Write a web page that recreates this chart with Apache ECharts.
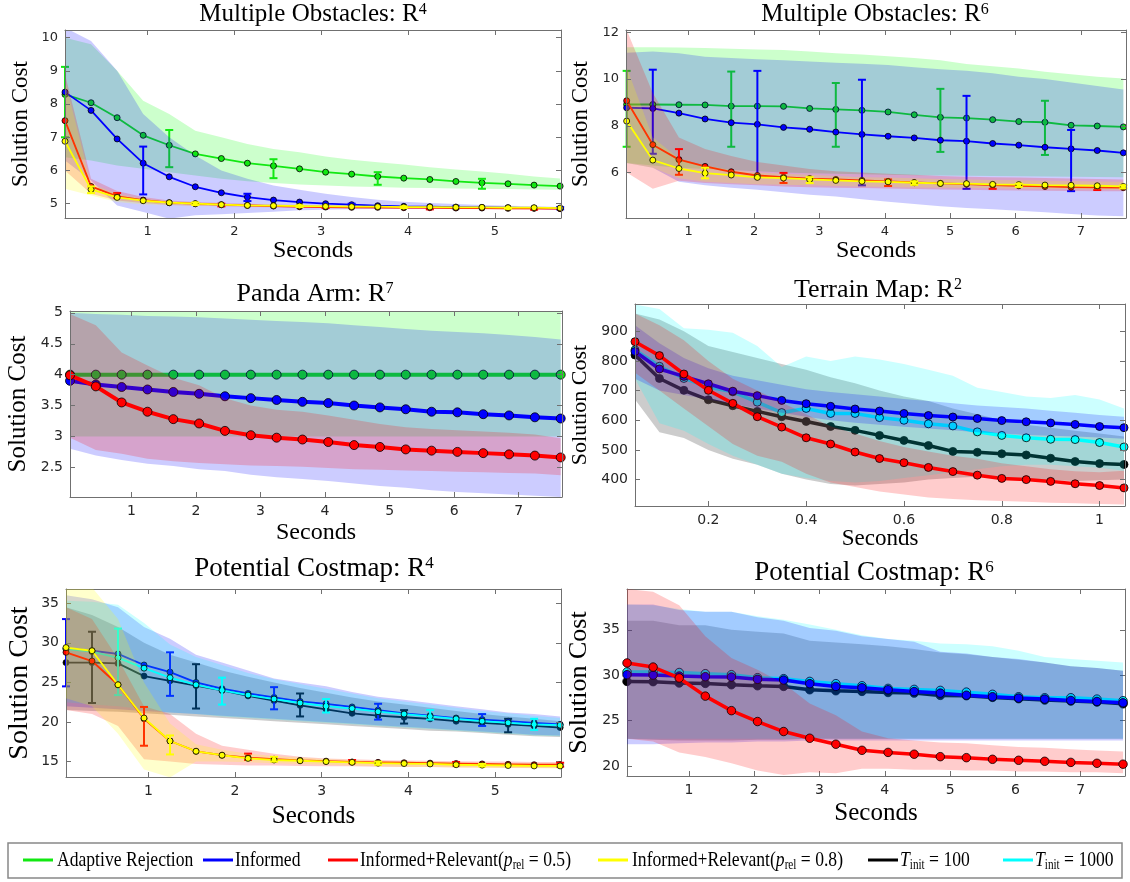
<!DOCTYPE html>
<html><head><meta charset="utf-8">
<script src="https://cdn.jsdelivr.net/npm/echarts@6/dist/echarts.min.js"></script>
<style>html,body{margin:0;padding:0;background:#fff}#c{width:1130px;height:882px}</style>
</head><body><div id="c"></div><script>
// ---------- Panel 1: Multiple Obstacles R^4 ----------
const mo4X = [0.05,0.35,0.65,0.95,1.25,1.55,1.85,2.15,2.45,2.75,3.05,3.35,3.65,3.95,4.25,4.55,4.85,5.15,5.45,5.75];
const mo4XTicks = [1,2,3,4,5];
const mo4YTicks = [5,6,7,8,9,10];
const mo4Adaptive = [8.29,8.04,7.59,7.06,6.76,6.50,6.36,6.22,6.14,6.05,5.95,5.89,5.82,5.77,5.73,5.67,5.63,5.60,5.56,5.53];
const mo4Informed = [8.36,7.81,6.95,6.22,5.81,5.51,5.33,5.20,5.11,5.05,5.00,4.97,4.94,4.92,4.91,4.90,4.89,4.88,4.87,4.86];
const mo4Rel05 = [7.50,5.52,5.22,5.11,5.03,5.00,4.97,4.95,4.93,4.91,4.90,4.89,4.89,4.88,4.88,4.87,4.87,4.86,4.86,4.85];
const mo4Rel08 = [6.88,5.43,5.19,5.09,5.03,5.00,4.97,4.95,4.94,4.93,4.92,4.91,4.91,4.90,4.90,4.89,4.89,4.88,4.88,4.87];
const mo4AdaptiveHi = [10.0,9.8,9.0,8.1,7.7,7.2,7.0,6.8,6.65,6.55,6.42,6.32,6.25,6.18,6.1,6.03,5.97,5.9,5.82,5.76];
const mo4AdaptiveLo = [6.4,6.3,6.15,6.05,5.95,5.85,5.75,5.68,5.62,5.58,5.55,5.52,5.5,5.48,5.47,5.46,5.45,5.44,5.43,5.42];
const mo4InformedHi = [10.3,9.9,9.0,7.7,7.0,6.45,6.0,5.75,5.55,5.42,5.3,5.2,5.12,5.06,5.02,4.99,4.96,4.94,4.92,4.9];
const mo4InformedLo = [6.3,5.7,4.95,4.75,4.55,4.65,4.68,4.72,4.76,4.8,4.82,4.83,4.84,4.85,4.85,4.85,4.85,4.85,4.84,4.84];
const mo4Rel05Hi = [8.9,5.75,5.38,5.2,5.1,5.05,5.02,5.0,4.98,4.96,4.95,4.94,4.93,4.92,4.92,4.91,4.91,4.9,4.9,4.9];
const mo4Rel05Lo = [6.0,5.3,5.1,5.02,4.96,4.94,4.92,4.9,4.89,4.88,4.87,4.86,4.85,4.85,4.84,4.84,4.83,4.83,4.82,4.82];
const mo4Rel08Hi = [8.7,5.6,5.3,5.15,5.07,5.04,5.0,4.98,4.97,4.96,4.95,4.94,4.93,4.93,4.92,4.92,4.91,4.91,4.9,4.9];
const mo4Rel08Lo = [5.45,5.25,5.05,4.98,4.96,4.94,4.93,4.92,4.91,4.9,4.89,4.88,4.88,4.87,4.87,4.86,4.86,4.85,4.85,4.84];
const mo4AdaptiveErr = [[0.05,7.0,9.12],[1.25,6.1,7.22],[2.45,5.77,6.34],[3.65,5.57,5.95],[4.85,5.45,5.75]];
const mo4InformedErr = [[0.95,5.28,6.72],[2.15,5.08,5.3],[3.35,4.94,5.0],[4.55,4.86,4.92],[5.75,4.83,4.9]];
const mo4Rel05Err = [[0.65,5.18,5.32],[1.85,4.92,5.0],[3.05,4.87,4.92],[4.25,4.83,4.88],[5.45,4.82,4.86]];
const mo4Rel08Err = [[0.35,5.32,5.52],[1.55,4.96,5.04],[2.75,4.9,4.95],[3.95,4.87,4.92],[5.15,4.85,4.88]];

// ---------- Panel 2: Multiple Obstacles R^6 ----------
const mo6X = [0.05,0.45,0.85,1.25,1.65,2.05,2.45,2.85,3.25,3.65,4.05,4.45,4.85,5.25,5.65,6.05,6.45,6.85,7.25,7.65];
const mo6XTicks = [1,2,3,4,5,6,7];
const mo6YTicks = [6,8,10,12];
const mo6Adaptive = [8.91,8.91,8.90,8.89,8.84,8.84,8.83,8.74,8.70,8.66,8.59,8.47,8.36,8.33,8.26,8.18,8.15,8.02,7.99,7.95];
const mo6Informed = [8.77,8.74,8.54,8.29,8.13,8.06,7.93,7.85,7.73,7.63,7.55,7.48,7.38,7.34,7.24,7.17,7.08,7.01,6.94,6.84];
const mo6Rel05 = [9.07,7.19,6.55,6.26,6.03,5.87,5.80,5.74,5.70,5.66,5.62,5.57,5.53,5.50,5.46,5.43,5.40,5.37,5.36,5.35];
const mo6Rel08 = [8.20,6.53,6.17,5.97,5.89,5.79,5.76,5.70,5.66,5.62,5.60,5.56,5.53,5.52,5.49,5.48,5.46,5.45,5.43,5.40];
const mo6AdaptiveHi = [11.36,11.36,11.35,11.33,11.3,11.27,11.24,11.18,11.1,11.05,10.98,10.9,10.8,10.64,10.55,10.45,10.31,10.2,10.1,10.02];
const mo6AdaptiveLo = [6.4,6.3,6.2,6.15,6.1,6.05,6.0,5.97,5.94,5.92,5.9,5.88,5.87,5.86,5.85,5.84,5.83,5.82,5.81,5.8];
const mo6InformedHi = [11.13,11.18,11.1,10.95,10.9,10.85,10.8,10.75,10.7,10.65,10.6,10.5,10.42,10.35,10.25,10.1,10.0,9.85,9.7,9.55];
const mo6InformedLo = [6.4,6.2,5.6,5.45,5.35,5.26,5.15,5.05,4.97,4.85,4.75,4.65,4.55,4.48,4.42,4.36,4.3,4.22,4.16,4.12];
const mo6Rel05Hi = [12.1,9.4,7.5,7.0,6.7,6.45,6.3,6.15,6.05,6.0,5.95,5.9,5.85,5.82,5.8,5.78,5.76,5.74,5.72,5.7];
const mo6Rel05Lo = [6.0,5.3,5.65,5.55,5.5,5.45,5.4,5.37,5.35,5.33,5.31,5.29,5.27,5.26,5.24,5.23,5.22,5.21,5.2,5.2];
const mo6Rel08Hi = [10.5,7.5,6.6,6.3,6.1,6.0,5.95,5.9,5.85,5.8,5.78,5.75,5.72,5.7,5.68,5.67,5.65,5.63,5.61,5.6];
const mo6Rel08Lo = [6.4,6.2,5.75,5.6,5.55,5.5,5.47,5.45,5.42,5.4,5.38,5.36,5.35,5.34,5.32,5.3,5.29,5.28,5.27,5.25];
const mo6AdaptiveErr = [[0.05,7.1,10.35],[1.65,7.1,10.32],[3.25,7.1,9.83],[4.85,6.88,9.58],[6.45,6.75,9.07]];
const mo6InformedErr = [[0.45,6.8,10.4],[2.05,5.8,10.35],[3.65,5.45,9.97],[5.25,5.3,9.28],[6.85,5.2,7.82]];
const mo6Rel05Err = [[0.85,5.9,7.0],[2.45,5.55,5.98],[4.05,5.42,5.7],[5.65,5.3,5.5],[7.25,5.25,5.42]];
const mo6Rel08Err = [[1.25,5.75,6.2],[2.85,5.55,5.8],[4.45,5.47,5.62],[6.05,5.38,5.52],[7.65,5.32,5.45]];

// ---------- Panel 3: Panda Arm R^7 ----------
const pandaX = [0.05,0.45,0.85,1.25,1.65,2.05,2.45,2.85,3.25,3.65,4.05,4.45,4.85,5.25,5.65,6.05,6.45,6.85,7.25,7.65];
const pandaXTicks = [1,2,3,4,5,6,7];
const pandaYTicks = [2.5,3,3.5,4,4.5,5];
const pandaAdaptive = [4,4,4,4,4,4,4,4,4,4,4,4,4,4,4,4,4,4,4,4];
const pandaInformed = [3.90,3.84,3.80,3.76,3.72,3.69,3.65,3.62,3.59,3.56,3.54,3.50,3.47,3.44,3.40,3.39,3.36,3.34,3.31,3.29];
const pandaRel05 = [3.99,3.81,3.55,3.40,3.28,3.21,3.09,3.02,2.98,2.95,2.91,2.86,2.83,2.79,2.77,2.75,2.73,2.71,2.69,2.66];
const pandaAdaptiveHi = [5.05,5.05,5.05,5.05,5.05,5.05,5.05,5.05,5.05,5.05,5.05,5.05,5.05,5.05,5.05,5.05,5.05,5.05,5.05,5.05];
const pandaAdaptiveLo = [3,3,3,3,3,3,3,3,3,3,3,3,3,3,3,3,3,3,3,3];
const pandaInformedHi = [5.0,4.98,4.97,4.95,4.94,4.93,4.91,4.89,4.87,4.85,4.83,4.8,4.77,4.74,4.71,4.69,4.67,4.64,4.61,4.57];
const pandaInformedLo = [2.8,2.69,2.62,2.56,2.52,2.47,2.44,2.38,2.34,2.31,2.28,2.24,2.2,2.17,2.13,2.1,2.08,2.06,2.04,2.02];
const pandaRel05Hi = [4.98,4.8,4.36,4.15,3.95,3.83,3.62,3.5,3.43,3.4,3.34,3.27,3.2,3.15,3.12,3.1,3.08,3.06,3.03,2.97];
const pandaRel05Lo = [2.98,2.78,2.72,2.64,2.6,2.57,2.55,2.53,2.52,2.51,2.49,2.47,2.46,2.45,2.44,2.43,2.42,2.41,2.4,2.37];

// ---------- Panel 4: Terrain Map R^2 ----------
const terrX = [0.05,0.10,0.15,0.20,0.25,0.30,0.35,0.40,0.45,0.50,0.55,0.60,0.65,0.70,0.75,0.80,0.85,0.90,0.95,1.00,1.05];
const terrXTicks = [0.2,0.4,0.6,0.8,1];
const terrYTicks = [400,500,600,700,800,900];
const terrInformed = [832,773,748,723,698,683,667,656,647,638,631,623,616,611,606,599,595,591,586,579,575];
const terrRel05 = [865,818,756,701,657,612,577,541,520,493,471,457,441,427,415,404,400,394,386,380,372];
const terrT100 = [820,741,701,669,649,630,612,596,579,566,549,532,515,495,492,487,483,472,461,454,451];
const terrT1000 = [837,782,741,712,696,661,626,640,623,623,609,600,588,581,561,549,541,536,535,525,510];
const terrInformedHi = [920,860,810,775,750,735,720,705,695,688,680,672,665,657,650,645,640,632,625,618,612];
const terrInformedLo = [740,700,685,670,655,640,625,612,600,592,585,578,572,566,560,555,550,548,545,542,538];
const terrT1000Hi = [990,975,910,905,895,850,780,815,800,815,805,790,770,750,710,695,680,675,685,670,640];
const terrT1000Lo = [740,590,565,520,480,450,420,405,395,390,395,405,415,425,435,445,450,450,445,440,430];
const terrT100Hi = [960,940,900,850,830,810,790,770,745,725,700,680,665,640,620,600,585,575,565,555,545];
const terrT100Lo = [670,560,540,500,470,450,420,400,385,380,385,390,400,405,410,405,400,398,395,398,400];
const terrRel05Hi = [960,920,870,800,740,700,660,620,580,555,530,510,495,480,470,455,445,435,428,425,430];
const terrRel05Lo = [760,700,640,580,520,480,460,420,390,375,360,350,340,335,330,328,325,322,320,318,316];

// ---------- Panel 5: Potential Costmap R^4 ----------
const pc4X = [0.05,0.35,0.65,0.95,1.25,1.55,1.85,2.15,2.45,2.75,3.05,3.35,3.65,3.95,4.25,4.55,4.85,5.15,5.45,5.75];
const pc4XTicks = [1,2,3,4,5];
const pc4YTicks = [15,20,25,30,35];
const pc4Informed = [29.3,29.0,28.6,27.2,26.3,25.0,24.2,23.6,23.1,22.6,22.3,21.9,21.5,21.1,20.8,20.5,20.3,20.1,19.9,19.7];
const pc4T1000 = [29.2,28.9,28.1,26.8,25.6,24.7,24.0,23.4,22.9,22.4,22.0,21.7,21.3,21.0,20.7,20.4,20.1,19.9,19.7,19.6];
const pc4T100 = [27.5,27.5,27.4,25.8,25.2,24.6,24.0,23.3,22.7,22.1,21.6,21.1,20.8,20.6,20.4,20.1,19.9,19.7,19.5,19.3];
const pc4Rel05 = [28.8,27.7,24.7,20.4,17.6,16.3,15.8,15.5,15.3,15.15,15.05,14.95,14.9,14.85,14.8,14.75,14.7,14.65,14.6,14.6];
const pc4Rel08 = [29.4,29.0,24.7,20.5,17.6,16.3,15.8,15.4,15.2,15.1,15.0,14.9,14.8,14.75,14.7,14.6,14.55,14.5,14.45,14.45];
const pc4InformedHi = [36.0,35.5,34.5,32.0,30.5,28.5,27.5,26.5,25.5,25.0,24.5,23.8,23.2,22.8,22.4,22.0,21.6,21.2,21.0,20.7];
const pc4InformedLo = [22.0,21.8,21.6,21.4,21.2,21.0,20.8,20.6,20.4,20.2,20.0,19.8,19.6,19.4,19.2,19.0,18.8,18.6,18.4,18.3];
const pc4T1000Hi = [35.3,35.2,34.8,32.5,29.8,28.2,27.2,26.2,25.4,24.8,24.2,23.6,23.0,22.6,22.2,21.8,21.4,21.1,20.8,20.5];
const pc4T1000Lo = [22.5,22.2,22.0,21.6,21.2,21.0,20.7,20.5,20.3,20.1,19.9,19.7,19.5,19.3,19.1,18.9,18.7,18.5,18.3,18.2];
const pc4T100Hi = [34.5,33.5,32.0,30.0,28.5,27.5,26.5,25.7,25.0,24.3,23.7,23.1,22.6,22.2,21.8,21.4,21.0,20.7,20.4,20.1];
const pc4T100Lo = [21.5,21.4,21.3,21.1,20.9,20.7,20.5,20.3,20.1,19.9,19.7,19.5,19.3,19.1,18.9,18.8,18.6,18.4,18.2,18.1];
const pc4Rel05Hi = [34.5,33.0,28.0,22.0,21.0,18.5,17.0,16.5,16.0,15.6,15.4,15.3,15.2,15.15,15.1,15.05,15.0,15.0,14.95,14.95];
const pc4Rel05Lo = [21.5,21.0,19.5,15.3,15.0,14.7,14.6,14.5,14.5,14.45,14.4,14.4,14.35,14.3,14.3,14.25,14.25,14.2,14.2,14.2];
const pc4Rel08Hi = [38.0,37.0,33.0,25.0,19.8,17.2,16.5,16.0,15.7,15.5,15.3,15.2,15.1,15.0,15.0,14.9,14.85,14.8,14.8,14.75];
const pc4Rel08Lo = [23.0,22.0,18.5,14.0,13.0,15.0,15.0,14.9,14.8,14.7,14.6,14.5,14.4,14.35,14.3,14.25,14.2,14.2,14.15,14.1];
const pc4InformedErr = [[0.05,24.5,33.0],[1.25,23.3,28.8],[2.45,21.6,24.4],[3.65,20.3,22.3],[4.85,19.5,21.0]];
const pc4T100Err = [[0.35,22.4,31.4],[1.55,21.7,27.3],[2.75,20.7,23.6],[3.95,19.8,21.5],[5.15,18.7,20.4]];
const pc4T1000Err = [[0.65,23.4,31.8],[1.85,22.2,25.6],[3.05,21.2,22.9],[4.25,20.3,21.5],[5.45,19.0,20.4]];
const pc4Rel05Err = [[0.95,17.0,21.9],[2.15,15.2,16.0],[3.35,14.8,15.2],[4.55,14.5,14.95],[5.75,14.35,14.85]];
const pc4Rel08Err = [[1.25,15.9,18.3],[2.45,15.0,15.6],[3.65,14.6,15.0],[4.85,14.4,14.7]];

// ---------- Panel 6: Potential Costmap R^6 ----------
const pc6X = [0.05,0.45,0.85,1.25,1.65,2.05,2.45,2.85,3.25,3.65,4.05,4.45,4.85,5.25,5.65,6.05,6.45,6.85,7.25,7.65];
const pc6XTicks = [1,2,3,4,5,6,7];
const pc6YTicks = [20,25,30,35];
const pc6Rel05 = [31.35,30.9,29.7,27.7,26.1,24.9,23.8,23.06,22.4,21.73,21.5,21.3,21.03,20.92,20.74,20.63,20.52,20.4,20.3,20.2];
const pc6T1000 = [30.36,30.36,30.3,30.17,30.06,29.73,29.62,29.32,29.07,28.84,28.55,28.44,28.33,28.14,27.9,27.63,27.52,27.52,27.37,27.19];
const pc6Informed = [30.06,30.02,29.91,29.84,29.8,29.55,29.47,29.07,28.77,28.62,28.4,28.2,28.03,27.8,27.63,27.48,27.37,27.22,27.11,26.96];
const pc6T100 = [29.32,29.29,29.14,29.1,28.95,28.84,28.77,28.4,28.29,28.22,28.1,28.03,27.78,27.74,27.56,27.41,27.26,27.15,27.04,26.85];
const pc6InformedHi = [37.8,37.8,37.2,37.0,37.0,36.4,36.0,35.2,34.9,34.3,34.0,33.7,32.6,32.4,32.0,31.8,31.4,31.0,30.8,30.5];
const pc6InformedLo = [22.4,22.4,22.5,22.6,22.6,22.7,22.7,22.8,22.8,22.8,22.8,22.8,22.8,22.8,22.8,22.8,22.8,22.8,22.8,22.8];
const pc6T1000Hi = [37.8,37.7,37.3,37.0,37.0,36.5,36.1,35.6,35.0,34.4,34.0,33.8,33.5,33.4,33.2,32.7,32.0,31.8,31.6,31.4];
const pc6T1000Lo = [23.0,23.0,23.0,23.0,23.0,23.0,23.0,23.0,23.0,23.0,23.0,23.0,23.0,23.0,23.0,23.0,23.0,23.0,23.0,23.0];
const pc6T100Hi = [36.0,36.0,35.5,35.5,35.0,34.8,34.6,33.8,33.6,33.4,33.2,32.9,32.5,32.3,32.0,31.7,31.4,31.0,30.8,30.5];
const pc6T100Lo = [23.0,22.9,22.8,22.8,22.8,22.9,22.9,23.0,23.0,23.0,23.0,23.0,23.0,23.0,23.0,23.0,23.0,23.0,23.0,23.0];
const pc6Rel05Hi = [39.5,39.2,37.7,34.3,31.9,30.6,29.1,26.9,25.6,23.8,23.06,22.8,22.6,22.5,22.3,22.1,22.0,21.85,21.7,21.6];
const pc6Rel05Lo = [23.0,22.7,21.5,21.0,20.3,19.5,19.0,19.3,19.2,19.7,19.7,19.6,19.6,19.5,19.5,19.4,19.4,19.3,19.3,19.2];

// ---------- Names / colours ----------
const NAMES = {
  adaptive: 'Adaptive Rejection',
  informed: 'Informed',
  rel05: 'Informed+Relevant(p_rel = 0.5)',
  rel08: 'Informed+Relevant(p_rel = 0.8)',
  t100: 'T_init = 100',
  t1000: 'T_init = 1000'
};
const LEGEND_ORDER = ['adaptive','informed','rel05','rel08','t100','t1000'];
const LINE_COLORS = {adaptive:'#12e812', informed:'#0000ff', rel05:'#ff0000', rel08:'#ffff00', t100:'#000000', t1000:'#00ffff'};
const BAND_COLORS = {adaptive:'rgba(0,255,0,0.2)', informed:'rgba(0,0,255,0.2)', rel05:'rgba(255,0,0,0.2)', rel08:'rgba(255,255,0,0.2)', t100:'rgba(0,0,0,0.2)', t1000:'rgba(0,255,255,0.2)'};

const SERIF = 'Liberation Serif';
const SANS = 'DejaVu Sans';
const AXC = '#707070';

const PANELS = [
  {title:['Multiple Obstacles: R','4'], tx:313, ty:14, tfs:25,
   grid:{left:65, top:30, width:496, height:188}, xr:[0.05,5.76], yr:[4.57,10.23], xt:mo4XTicks, yt:mo4YTicks,
   tf:13, ynf:23, yng:33, xnf:24, xng:21, lw:1.8, sym:6, cap:4, ew:2,
   algs:[
    {key:'adaptive', x:mo4X, y:mo4Adaptive, lo:mo4AdaptiveLo, hi:mo4AdaptiveHi, err:mo4AdaptiveErr},
    {key:'informed', x:mo4X, y:mo4Informed, lo:mo4InformedLo, hi:mo4InformedHi, err:mo4InformedErr},
    {key:'rel05', x:mo4X, y:mo4Rel05, lo:mo4Rel05Lo, hi:mo4Rel05Hi, err:mo4Rel05Err},
    {key:'rel08', x:mo4X, y:mo4Rel08, lo:mo4Rel08Lo, hi:mo4Rel08Hi, err:mo4Rel08Err}]},
  {title:['Multiple Obstacles: R','6'], tx:875, ty:14, tfs:25,
   grid:{left:626, top:30, width:500, height:188}, xr:[0.04,7.69], yr:[4.05,12.1], xt:mo6XTicks, yt:mo6YTicks,
   tf:13, ynf:23, yng:34, xnf:24, xng:21, lw:1.8, sym:6, cap:4, ew:2,
   algs:[
    {key:'adaptive', x:mo6X, y:mo6Adaptive, lo:mo6AdaptiveLo, hi:mo6AdaptiveHi, err:mo6AdaptiveErr},
    {key:'informed', x:mo6X, y:mo6Informed, lo:mo6InformedLo, hi:mo6InformedHi, err:mo6InformedErr},
    {key:'rel05', x:mo6X, y:mo6Rel05, lo:mo6Rel05Lo, hi:mo6Rel05Hi, err:mo6Rel05Err},
    {key:'rel08', x:mo6X, y:mo6Rel08, lo:mo6Rel08Lo, hi:mo6Rel08Hi, err:mo6Rel08Err}]},
  {title:['Panda Arm: R','7'], tx:315, ty:294, tfs:26,
   grid:{left:70, top:311, width:492, height:186}, xr:[0.05,7.67], yr:[2.02,5.03], xt:pandaXTicks, yt:pandaYTicks,
   tf:14, ynf:25, yng:39, xnf:24, xng:24, lw:4, sym:9, cap:4, ew:2,
   algs:[
    {key:'adaptive', x:pandaX, y:pandaAdaptive, lo:pandaAdaptiveLo, hi:pandaAdaptiveHi},
    {key:'informed', x:pandaX, y:pandaInformed, lo:pandaInformedLo, hi:pandaInformedHi},
    {key:'rel05', x:pandaX, y:pandaRel05, lo:pandaRel05Lo, hi:pandaRel05Hi}]},
  {title:['Terrain Map: R','2'], tx:878, ty:290, tfs:26,
   grid:{left:635, top:304, width:490, height:202}, xr:[0.05,1.052], yr:[311,992], xt:terrXTicks, yt:terrYTicks,
   tf:14, ynf:22, yng:44, xnf:23, xng:20, lw:3.5, sym:8, cap:4, ew:2,
   algs:[
    {key:'t100', x:terrX, y:terrT100, lo:terrT100Lo, hi:terrT100Hi},
    {key:'t1000', x:terrX, y:terrT1000, lo:terrT1000Lo, hi:terrT1000Hi},
    {key:'informed', x:terrX, y:terrInformed, lo:terrInformedLo, hi:terrInformedHi},
    {key:'rel05', x:terrX, y:terrRel05, lo:terrRel05Lo, hi:terrRel05Hi}]},
  {title:['Potential Costmap: R','4'], tx:314, ty:569, tfs:27,
   grid:{left:66, top:589, width:495, height:188}, xr:[0.05,5.76], yr:[13.05,36.8], xt:pc4XTicks, yt:pc4YTicks,
   tf:14, ynf:28, yng:32, xnf:25, xng:27, lw:1.8, sym:6, cap:4, ew:2,
   algs:[
    {key:'t100', x:pc4X, y:pc4T100, lo:pc4T100Lo, hi:pc4T100Hi, err:pc4T100Err},
    {key:'informed', x:pc4X, y:pc4Informed, lo:pc4InformedLo, hi:pc4InformedHi, err:pc4InformedErr},
    {key:'t1000', x:pc4X, y:pc4T1000, lo:pc4T1000Lo, hi:pc4T1000Hi, err:pc4T1000Err},
    {key:'rel05', x:pc4X, y:pc4Rel05, lo:pc4Rel05Lo, hi:pc4Rel05Hi, err:pc4Rel05Err},
    {key:'rel08', x:pc4X, y:pc4Rel08, lo:pc4Rel08Lo, hi:pc4Rel08Hi, err:pc4Rel08Err}]},
  {title:['Potential Costmap: R','6'], tx:874, ty:573, tfs:27,
   grid:{left:627, top:589, width:498, height:187}, xr:[0.05,7.68], yr:[18.9,39.5], xt:pc6XTicks, yt:pc6YTicks,
   tf:14, ynf:26, yng:35, xnf:25, xng:25, lw:3.5, sym:8.5, cap:4, ew:2,
   algs:[
    {key:'t100', x:pc6X, y:pc6T100, lo:pc6T100Lo, hi:pc6T100Hi},
    {key:'t1000', x:pc6X, y:pc6T1000, lo:pc6T1000Lo, hi:pc6T1000Hi},
    {key:'informed', x:pc6X, y:pc6Informed, lo:pc6InformedLo, hi:pc6InformedHi},
    {key:'rel05', x:pc6X, y:pc6Rel05, lo:pc6Rel05Lo, hi:pc6Rel05Hi}]}
];

// legend layout (pixel positions of the key lines and labels)
const LEGEND_POS = {adaptive:[23,57], informed:[203,235], rel05:[328,360], rel08:[598,632], t100:[868,900], t1000:[1003,1035]};

const grids = [], xAxes = [], yAxes = [], series = [], graphics = [];
let z = 2;
PANELS.forEach((P, p) => {
  grids.push(Object.assign({containLabel:false}, P.grid));
  const lineS = {show:true, onZero:false, lineStyle:{color:AXC, width:1}};
  const tickS = (vals) => ({show:true, inside:true, length:5, lineStyle:{color:AXC, width:1}, customValues:vals});
  const lab = (vals) => ({show:true, customValues:vals, fontFamily:SANS, fontSize:P.tf, color:'#262626', margin:7});
  xAxes.push({gridIndex:p, type:'value', min:P.xr[0], max:P.xr[1], position:'bottom', z:50,
    axisLine:lineS, axisTick:tickS(P.xt), axisLabel:lab(P.xt), splitLine:{show:false},
    name:'Seconds', nameLocation:'middle', nameGap:P.xng, nameTextStyle:{fontFamily:SERIF, fontSize:P.xnf, color:'#000'}});
  xAxes.push({gridIndex:p, type:'value', min:P.xr[0], max:P.xr[1], position:'top', z:50,
    axisLine:lineS, axisTick:tickS(P.xt), axisLabel:{show:false}, splitLine:{show:false}});
  yAxes.push({gridIndex:p, type:'value', min:P.yr[0], max:P.yr[1], position:'left', z:50,
    axisLine:lineS, axisTick:tickS(P.yt), axisLabel:lab(P.yt), splitLine:{show:false},
    name:'Solution Cost', nameLocation:'middle', nameGap:P.yng, nameTextStyle:{fontFamily:SERIF, fontSize:P.ynf, color:'#000'}});
  yAxes.push({gridIndex:p, type:'value', min:P.yr[0], max:P.yr[1], position:'right', z:50,
    axisLine:lineS, axisTick:tickS(P.yt), axisLabel:{show:false}, splitLine:{show:false}});

  const xi = 2*p, yi = 2*p;
  P.algs.forEach(a => {
    const col = LINE_COLORS[a.key];
    const fill = BAND_COLORS[a.key];
    const n = a.x.length;
    series.push({type:'custom', name:'band', xAxisIndex:xi, yAxisIndex:yi, z:z++, silent:true, clip:true,
      encode:{x:0, y:[1,2]}, data:a.x.map((v,i)=>[v, a.lo[i], a.hi[i]]),
      renderItem:function(params, api){
        if (params.dataIndex !== 0) return null;
        const pts = [];
        for (let i = 0; i < n; i++) pts.push(api.coord([api.value(0, i), api.value(1, i)]));
        for (let i = n - 1; i >= 0; i--) pts.push(api.coord([api.value(0, i), api.value(2, i)]));
        const cs = params.coordSys;
        return {type:'polygon', shape:{points:pts}, style:{fill:fill, stroke:null},
          clipPath:{type:'rect', shape:{x:cs.x, y:cs.y, width:cs.width, height:cs.height}}};
      }});
    series.push({type:'line', name:NAMES[a.key], xAxisIndex:xi, yAxisIndex:yi, z:z++,
      symbol:'circle', symbolSize:P.sym, showSymbol:true, showAllSymbol:true,
      lineStyle:{color:col, width:P.lw}, itemStyle:{color:col, borderColor:'#000', borderWidth:0.8},
      emphasis:{disabled:true},
      data:a.x.map((v,i)=>[v, a.y[i]])});
    if (a.err) {
      const cap = P.cap, ew = P.ew;
      series.push({type:'custom', name:'err', xAxisIndex:xi, yAxisIndex:yi, z:z++, silent:true,
        encode:{x:0, y:[1,2]}, data:a.err,
        renderItem:function(params, api){
          const x = api.value(0);
          const t = api.coord([x, api.value(2)]);
          const b = api.coord([x, api.value(1)]);
          const st = {stroke:col, lineWidth:ew};
          return {type:'group', children:[
            {type:'line', shape:{x1:t[0], y1:t[1], x2:b[0], y2:b[1]}, style:st},
            {type:'line', shape:{x1:t[0]-cap, y1:t[1], x2:t[0]+cap, y2:t[1]}, style:st},
            {type:'line', shape:{x1:b[0]-cap, y1:b[1], x2:b[0]+cap, y2:b[1]}, style:st}
          ]};
        }});
    }
  });

  graphics.push({type:'text', x:P.tx, y:P.ty, z:100, style:{
    text:'{t|' + P.title[0] + '}{s|' + P.title[1] + '}', align:'center', verticalAlign:'middle',
    rich:{t:{fontFamily:SERIF, fontSize:P.tfs, fill:'#000'},
          s:{fontFamily:SERIF, fontSize:Math.round(P.tfs*0.62), fill:'#000', verticalAlign:'top'}}}});
});

// legend box and entries
graphics.push({type:'rect', shape:{x:8, y:843, width:1114, height:35}, style:{fill:'#fff', stroke:'#888', lineWidth:1.5}, z:0});
const LY = 860;
LEGEND_ORDER.forEach(k => {
  const pos = LEGEND_POS[k];
  graphics.push({type:'line', z:10, shape:{x1:pos[0], y1:LY, x2:pos[0]+30, y2:LY}, style:{stroke:LINE_COLORS[k], lineWidth:3}});
  let txt = NAMES[k];
  if (txt.indexOf('p_rel') >= 0) txt = txt.replace('p_rel', '{i|p}{s|rel}');
  if (txt.indexOf('T_init') >= 0) txt = txt.replace('T_init', '{i|T}{s|init}');
  graphics.push({type:'text', z:10, x:pos[1], y:LY, scaleX:0.8, style:{
    text:txt, align:'left', verticalAlign:'middle', fontFamily:SERIF, fontSize:22, fill:'#000',
    rich:{i:{fontFamily:SERIF, fontSize:22, fontStyle:'italic', fill:'#000'},
          s:{fontFamily:SERIF, fontSize:14, fill:'#000', verticalAlign:'bottom', padding:[10,0,0,0]}}}});
});

const chart = echarts.init(document.getElementById('c'), null, {renderer:'canvas'});
chart.setOption({
  animation:false,
  backgroundColor:'#fff',
  grid:grids, xAxis:xAxes, yAxis:yAxes, series:series, graphic:graphics
});
</script></body></html>
